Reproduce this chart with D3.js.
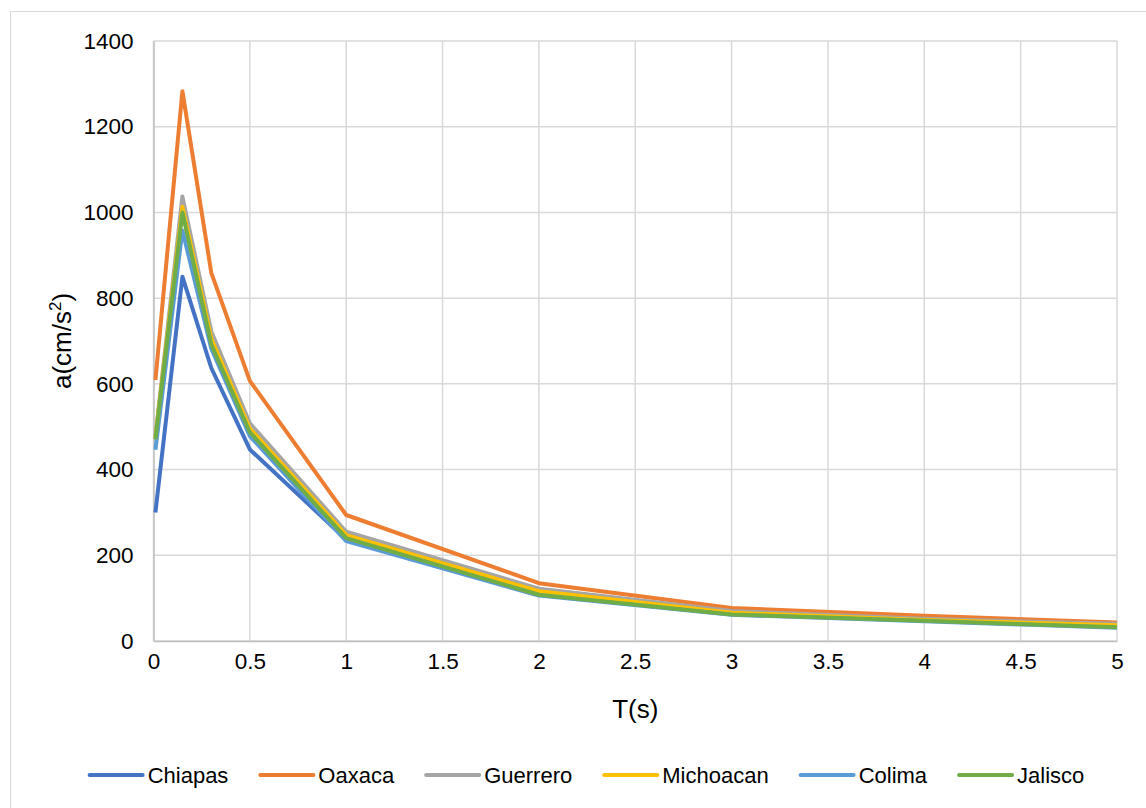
<!DOCTYPE html>
<html><head><meta charset="utf-8">
<script src="https://cdn.jsdelivr.net/npm/d3@7"></script>
<style>body{margin:0;background:#fff}svg{display:block}text{font-family:"Liberation Sans",Arial,sans-serif;fill:#000}</style>
</head><body>
<svg id="c" width="1146" height="808"></svg>
<script>
const periods = [0.01, 0.15, 0.3, 0.5, 1, 2, 3, 4, 5];
const seriesNames = ["Chiapas", "Oaxaca", "Guerrero", "Michoacan", "Colima", "Jalisco"];
const chiapas   = [300, 850, 637, 447, 237, 121, 68, 49, 35];
const oaxaca    = [609, 1283, 859, 607, 294, 135, 77, 59, 43];
const guerrero  = [478, 1037, 722, 508, 255, 122, 70, 52, 40];
const michoacan = [474, 1013, 705, 496, 247, 116, 66, 49, 37];
const colima    = [446, 958, 682, 478, 233, 106, 61, 46, 31];
const jalisco   = [471, 1000, 692, 487, 240, 108, 62, 47, 32];
const colors = ["#4472C4", "#ED7D31", "#A5A5A5", "#FFC000", "#5B9BD5", "#70AD47"];
const xTicks = [0, 0.5, 1, 1.5, 2, 2.5, 3, 3.5, 4, 4.5, 5];
const yTicks = [0, 200, 400, 600, 800, 1000, 1200, 1400];
const allValues = [chiapas, oaxaca, guerrero, michoacan, colima, jalisco];

const svg = d3.select("#c");
const m = {left: 153.5, right: 1117, top: 41, bottom: 641};
const x = d3.scaleLinear().domain([0, 5]).range([m.left, m.right]);
const y = d3.scaleLinear().domain([0, 1400]).range([m.bottom, m.top]);
const fs = 22.5, lfs = 22, tfs = 26;

svg.append("rect").attr("x", 10.5).attr("y", 11.5).attr("width", 1140).attr("height", 800)
  .attr("fill", "#fff").attr("stroke", "#d9d9d9").attr("stroke-width", 1);

// gridlines
svg.append("g").selectAll("line").data(yTicks).join("line")
  .attr("x1", m.left).attr("x2", m.right)
  .attr("y1", d => y(d)).attr("y2", d => y(d))
  .attr("stroke", "#d9d9d9").attr("stroke-width", 1.5);
svg.append("g").selectAll("line").data(xTicks).join("line")
  .attr("y1", m.top).attr("y2", m.bottom)
  .attr("x1", d => x(d)).attr("x2", d => x(d))
  .attr("stroke", "#d9d9d9").attr("stroke-width", 1.5);

// axes
const xAxis = svg.append("g").attr("transform", `translate(0,${m.bottom})`)
  .call(d3.axisBottom(x).tickValues(xTicks).tickFormat(d => String(d)).tickSize(0).tickPadding(12));
xAxis.select(".domain").attr("stroke", "#bfbfbf").attr("stroke-width", 1.5);
xAxis.selectAll("text").style("font-size", fs + "px").attr("font-family", null);

const yAxis = svg.append("g").attr("transform", `translate(${m.left},0)`)
  .call(d3.axisLeft(y).tickValues(yTicks).tickFormat(d3.format("d")).tickSize(0).tickPadding(20));
yAxis.select(".domain").attr("stroke", "#bfbfbf").attr("stroke-width", 1.5);
yAxis.selectAll("text").style("font-size", fs + "px").attr("font-family", null);

// lines
const line = d3.line().x(d => x(d[0])).y(d => y(d[1]));
allValues.forEach((vals, i) => {
  svg.append("path").datum(periods.map((p, j) => [p, vals[j]]))
    .attr("d", line).attr("fill", "none").attr("stroke", colors[i])
    .attr("stroke-width", 4).attr("stroke-linejoin", "round");
});

// axis titles
svg.append("text").attr("x", x(2.5)).attr("y", 718).attr("text-anchor", "middle")
  .style("font-size", tfs + "px").text("T(s)");
const yt = svg.append("text").attr("transform", `translate(71,${(m.top + m.bottom) / 2}) rotate(-90)`)
  .attr("text-anchor", "middle").style("font-size", tfs + "px");
yt.append("tspan").text("a(cm/s");
yt.append("tspan").attr("dy", -10).style("font-size", "17px").text("2");
yt.append("tspan").attr("dy", 10).text(")");

// legend
const lg = svg.append("g");
let cx = 0;
seriesNames.forEach((n, i) => {
  const g = lg.append("g");
  g.append("line").attr("x1", 0).attr("x2", 53).attr("y1", 0).attr("y2", 0)
    .attr("stroke", colors[i]).attr("stroke-width", 4).attr("stroke-linecap", "round");
  const t = g.append("text").attr("x", 58).attr("y", 8).style("font-size", lfs + "px").text(n);
  const w = 58 + t.node().getComputedTextLength();
  g.attr("transform", `translate(${cx},0)`);
  cx += w + 32;
});
const total = cx - 32;
lg.attr("transform", `translate(${587 - total / 2},775)`);
</script>
</body></html>
